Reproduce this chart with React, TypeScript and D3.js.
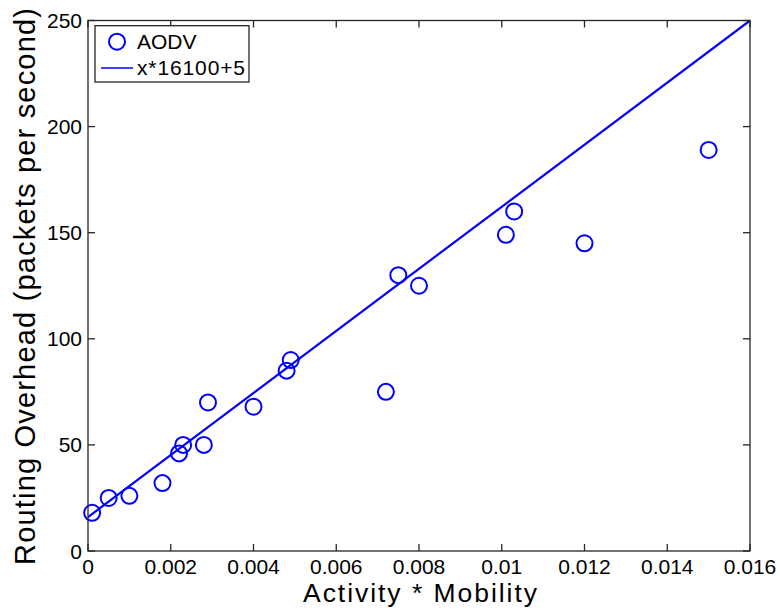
import React from "react";
import * as d3 from "d3";

const aodvX = [0.0001, 0.0005, 0.001, 0.0018, 0.0022, 0.0023, 0.0028, 0.0029, 0.004, 0.0048, 0.0049, 0.0072, 0.0075, 0.008, 0.0101, 0.0103, 0.012, 0.015];
const aodvY = [18, 25, 26, 32, 46, 50, 50, 70, 68, 85, 90, 75, 130, 125, 149, 160, 145, 189];
const fitX = [0, 0.016];
const fitY = [16, 250];
const xTicks = [0, 0.002, 0.004, 0.006, 0.008, 0.01, 0.012, 0.014, 0.016];
const yTicks = [0, 50, 100, 150, 200, 250];
const legendLabels = ["AODV", "x*16100+5"];

const W = 780, H = 610;
const L = 88, R = 750, T = 20.5, B = 551;
const FONT = "'Liberation Sans', Arial, sans-serif";
const BLUE = "#0000ff";
const AX = "#262626";

export default function App() {
  const x = d3.scaleLinear().domain([0, 0.016]).range([L, R]);
  const y = d3.scaleLinear().domain([0, 250]).range([B, T]);
  const line = d3.line<number>().x((d, i) => x(fitX[i])).y((d, i) => y(fitY[i]));
  const tl = 7;
  return (
    <svg width={W} height={H} style={{ position: "absolute", left: 0, top: 0 }} fontFamily={FONT}>
      <rect x={0} y={0} width={W} height={H} fill="#fff" />
      <defs>
        <clipPath id="pc"><rect x={L} y={T} width={R - L} height={B - T} /></clipPath>
      </defs>
      <path d={line(fitY) || ""} fill="none" stroke={BLUE} strokeWidth={2.2} clipPath="url(#pc)" />
      {aodvX.map((v, i) => (
        <circle key={i} cx={x(v)} cy={y(aodvY[i])} r={8} fill="none" stroke={BLUE} strokeWidth={2} />
      ))}
      <rect x={L} y={T} width={R - L} height={B - T} fill="none" stroke={AX} strokeWidth={1.3} />
      {xTicks.map((t, i) => (
        <g key={"x" + i}>
          <line x1={x(t)} x2={x(t)} y1={B} y2={B - tl} stroke={AX} strokeWidth={1.3} />
          <line x1={x(t)} x2={x(t)} y1={T} y2={T + tl} stroke={AX} strokeWidth={1.3} />
          <text x={x(t)} y={573.5} textAnchor="middle" fontSize={21} fill="#000">{String(t)}</text>
        </g>
      ))}
      {yTicks.map((t, i) => (
        <g key={"y" + i}>
          <line x1={L} x2={L + tl} y1={y(t)} y2={y(t)} stroke={AX} strokeWidth={1.3} />
          <line x1={R} x2={R - tl} y1={y(t)} y2={y(t)} stroke={AX} strokeWidth={1.3} />
          <text x={82} y={y(t) + 7.5} textAnchor="end" fontSize={21} fill="#000">{String(t)}</text>
        </g>
      ))}
      <text x={420} y={602} textAnchor="middle" fontSize={26.5} textLength={234} lengthAdjust="spacing" fill="#000">Activity * Mobility</text>
      <text transform={`translate(35,286.5) rotate(-90)`} textAnchor="middle" fontSize={29} textLength={557} lengthAdjust="spacing" fill="#000">Routing Overhead (packets per second)</text>
      <g>
        <rect x={95} y={25.7} width={154} height={56.3} fill="#fff" stroke={AX} strokeWidth={1.3} />
        <circle cx={117} cy={41.7} r={8} fill="none" stroke={BLUE} strokeWidth={2} />
        <text x={137} y={48.5} fontSize={21} fill="#000">{legendLabels[0]}</text>
        <line x1={101} x2={133} y1={68} y2={68} stroke={BLUE} strokeWidth={1.5} />
        <text x={137} y={74.5} fontSize={21} textLength={108} lengthAdjust="spacing" fill="#000">{legendLabels[1]}</text>
      </g>
    </svg>
  );
}
